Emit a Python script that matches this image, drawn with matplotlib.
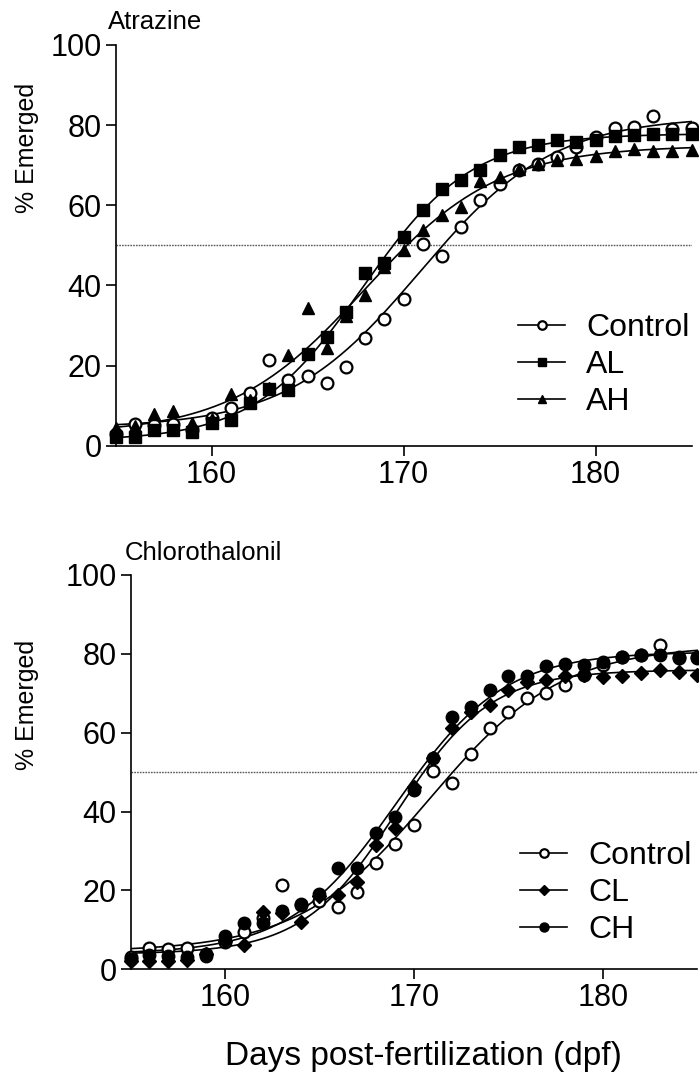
import numpy as np
import matplotlib.pyplot as plt
from matplotlib.lines import Line2D

plt.rcParams['font.family'] = ['Liberation Sans', 'DejaVu Sans']

days = np.arange(155, 186)

control = [3.0, 5.3, 5.2, 5.4, 3.8, 6.8, 9.5, 13.1, 21.4, 16.4, 17.4, 15.7, 19.7, 27.0, 31.7,
           36.6, 50.3, 47.3, 54.7, 61.2, 65.2, 68.9, 70.2, 72.1, 74.6, 77.1, 79.2, 79.6, 82.3, 79.0, 79.2]
al = [2.2, 2.2, 3.9, 3.9, 3.3, 5.6, 6.4, 10.6, 14.1, 13.9, 23.0, 27.2, 33.3, 43.1, 45.5,
      52.1, 58.8, 64.0, 66.2, 68.8, 72.6, 74.6, 75.0, 76.3, 75.8, 76.3, 77.2, 77.6, 77.8, 77.7, 77.7]
ah = [4.3, 5.0, 7.9, 8.6, 5.6, 6.6, 12.8, 11.5, 14.5, 22.7, 34.3, 24.5, 32.4, 37.6, 44.5,
      48.8, 53.8, 57.6, 59.6, 66.0, 67.1, 69.1, 70.4, 71.3, 71.6, 72.4, 73.6, 74.0, 73.6, 73.5, 73.9]
cl = [2.0, 2.0, 2.0, 2.4, 4.0, 7.2, 6.2, 14.6, 14.2, 12.1, 18.6, 18.8, 22.2, 31.5, 35.8,
      46.3, 53.7, 61.1, 65.3, 67.0, 70.8, 72.9, 73.4, 74.5, 74.6, 74.2, 74.3, 75.1, 75.9, 75.3, 74.6]
ch = [2.5, 3.6, 3.3, 3.2, 3.4, 8.4, 11.7, 11.7, 14.8, 16.6, 19.2, 25.6, 25.6, 34.5, 38.7,
      45.5, 53.5, 64.0, 66.5, 70.8, 74.4, 74.4, 76.8, 77.4, 77.1, 78.0, 79.3, 79.7, 79.7, 79.3, 78.9]


def fit_sigmoid(x, y):
    # bottom + span / (1 + exp(-(x - x0)/s)), grid over x0, s ; linear solve for bottom/span
    x = np.asarray(x, float)
    y = np.asarray(y, float)
    x0s = np.arange(162, 178, 0.04)
    ss = np.arange(1.0, 6.0, 0.04)
    X0, S = np.meshgrid(x0s, ss, indexing='ij')
    g = 1 / (1 + np.exp(-(x[None, None, :] - X0[..., None]) / S[..., None]))
    n = len(x)
    sg = g.sum(-1)
    sgg = (g * g).sum(-1)
    sy = y.sum()
    sgy = (g * y).sum(-1)
    span = (n * sgy - sg * sy) / (n * sgg - sg ** 2)
    bot = (sy - span * sg) / n
    res = ((bot[..., None] + span[..., None] * g - y) ** 2).sum(-1)
    i = np.unravel_index(np.argmin(res), res.shape)
    return bot[i], span[i], X0[i], S[i]


def sigmoid(xs, p):
    b, a, x0, s = p
    return b + a / (1 + np.exp(-(xs - x0) / s))


W, H = 699, 1076
fig = plt.figure(figsize=(W / 100, H / 100), dpi=100)

ax1 = fig.add_axes([115.5 / W, 1 - 445.7 / H, 576 / W, 400.7 / H])
ax2 = fig.add_axes([130.5 / W, 1 - 969.3 / H, 567 / W, 394.3 / H])

xs = np.linspace(155, 185, 400)

open_c = dict(marker='o', mfc='white', mec='black', mew=1.6, ms=8.5)
sq = dict(marker='s', mfc='black', mec='black', ms=8)
tri = dict(marker='^', mfc='black', mec='black', ms=8.5)
dia = dict(marker='D', mfc='black', mec='black', ms=7)
dot = dict(marker='o', mfc='black', mec='black', ms=9)

panels = [
    (ax1, [(control, open_c, 'Control'), (al, sq, 'AL'), (ah, tri, 'AH')], (0.699, 0.201)),
    (ax2, [(control, open_c, 'Control'), (cl, dia, 'CL'), (ch, dot, 'CH')], (0.687, 0.1935)),
]

for ax, series, anchor in panels:
    ax.axhline(50, color='0.35', lw=1.0, ls=(0, (1.2, 0.8)), zorder=1)
    for vals, mk, lab in series:
        p = fit_sigmoid(days, vals)
        ax.plot(xs, sigmoid(xs, p), color='black', lw=1.2, zorder=2)
    for vals, mk, lab in series:
        ax.plot(days, vals, ls='none', clip_on=False, zorder=3, **mk)
    ax.set_xlim(155, 185)
    ax.set_ylim(0, 100)
    ax.set_xticks([160, 170, 180])
    ax.set_yticks(range(0, 101, 20))
    ax.spines[['top', 'right']].set_visible(False)
    for sp in ['left', 'bottom']:
        ax.spines[sp].set_linewidth(1.2)
    ax.tick_params(direction='out', length=7, width=1.2, labelsize=22, pad=3)

    handles = []
    for vals, mk, lab in series:
        m = dict(mk)
        m['ms'] = m['ms'] * 0.72
        handles.append(Line2D([], [], color='black', lw=1.2, **m))
    labels = [s[2] for s in series]
    ax.legend(handles, labels, frameon=False, fontsize=23, loc='center left',
              bbox_to_anchor=anchor, handlelength=1.47, handletextpad=0.66,
              labelspacing=0.22, borderpad=0, borderaxespad=0)

fig.text(108 / W, 1 - 22 / H, 'Atrazine', fontsize=18.5, va='center', ha='left')
fig.text(125 / W, 1 - 553 / H, 'Chlorothalonil', fontsize=18.5, va='center', ha='left')
fig.text(27 / W, 1 - 148 / H, '% Emerged', fontsize=18, rotation=90, va='center', ha='center')
fig.text(27 / W, 1 - 705 / H, '% Emerged', fontsize=18, rotation=90, va='center', ha='center')
fig.text(423 / W, 1 - 1056 / H, 'Days post-fertilization (dpf)', fontsize=24, va='center', ha='center')

fig.savefig('out.png', dpi=100)
